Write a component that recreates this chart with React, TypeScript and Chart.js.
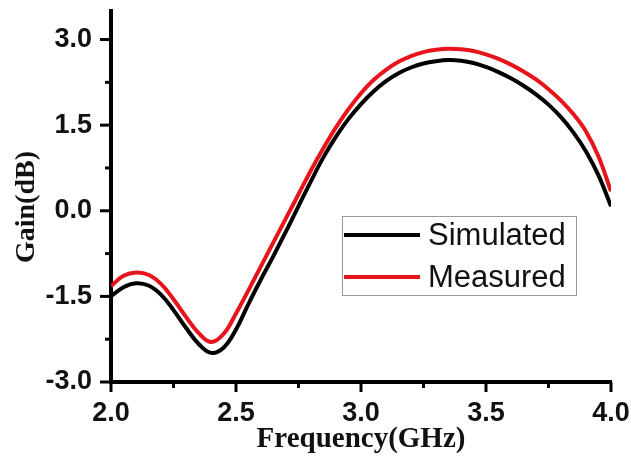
import { useEffect, useRef } from "react";
import { Chart, registerables } from "chart.js";

Chart.register(...registerables);

const frequencies = [
  2.0, 2.05, 2.1, 2.15, 2.2, 2.25, 2.3, 2.35, 2.4, 2.45, 2.5, 2.55, 2.6, 2.65, 2.7, 2.75, 2.8, 2.85, 2.9, 2.95, 3.0,
  3.05, 3.1, 3.15, 3.2, 3.25, 3.3, 3.35, 3.4, 3.45, 3.5, 3.55, 3.6, 3.65, 3.7, 3.75, 3.8, 3.85, 3.9, 3.95, 4.0,
];
const simulated = [
  -1.5, -1.34, -1.27, -1.31, -1.47, -1.74, -2.05, -2.33, -2.49, -2.4, -2.08, -1.63, -1.2, -0.79, -0.36, 0.08, 0.52,
  0.94, 1.3, 1.61, 1.87, 2.09, 2.27, 2.41, 2.51, 2.58, 2.62, 2.64, 2.63, 2.59, 2.52, 2.43, 2.32, 2.19, 2.04, 1.86,
  1.64, 1.37, 1.04, 0.62, 0.08,
];
const measured = [
  -1.32, -1.14, -1.08, -1.12, -1.28, -1.55, -1.86, -2.14, -2.3, -2.16, -1.8, -1.39, -0.97, -0.55, -0.13, 0.29, 0.71,
  1.1, 1.46, 1.78, 2.06, 2.29, 2.47, 2.61, 2.71, 2.78, 2.82, 2.84, 2.83, 2.8, 2.74, 2.66, 2.56, 2.44, 2.3, 2.13,
  1.93, 1.69, 1.39, 0.95, 0.34,
];
const seriesLabels = ["Simulated", "Measured"];
const seriesColors = ["#000000", "#e8141b"];
const xMajorTicks = [2.0, 2.5, 3.0, 3.5, 4.0];
const xMinorTicks = [2.25, 2.75, 3.25, 3.75];
const yMajorTicks = [-3.0, -1.5, 0.0, 1.5, 3.0];
const yMinorTicks = [-2.25, -0.75, 0.75, 2.25];

const tickPlugin = {
  id: "customTicks",
  afterDraw(chart: any) {
    const ctx = chart.ctx;
    const xs = chart.scales.x;
    const ys = chart.scales.y;
    const area = chart.chartArea;
    ctx.save();
    ctx.strokeStyle = "#000";
    ctx.lineWidth = 3;
    ctx.lineCap = "butt";
    const vline = (px: number, len: number) => {
      ctx.beginPath();
      ctx.moveTo(px, area.bottom);
      ctx.lineTo(px, area.bottom + len);
      ctx.stroke();
    };
    const hline = (py: number, len: number) => {
      ctx.beginPath();
      ctx.moveTo(area.left, py);
      ctx.lineTo(area.left - len, py);
      ctx.stroke();
    };
    xMajorTicks.forEach((v) => vline(xs.getPixelForValue(v), 10));
    xMinorTicks.forEach((v) => vline(xs.getPixelForValue(v), 6));
    yMajorTicks.forEach((v) => hline(ys.getPixelForValue(v), 11));
    yMinorTicks.forEach((v) => hline(ys.getPixelForValue(v), 6));

    // legend box
    const bx = area.left + 231;
    const by = area.top + 205;
    const bw = 234;
    const bh = 79;
    ctx.lineWidth = 1;
    ctx.strokeStyle = "#9a9a9a";
    ctx.strokeRect(bx + 0.5, by + 0.5, bw, bh);
    ctx.font = '31px "Liberation Sans", Arial, sans-serif';
    ctx.textBaseline = "middle";
    ctx.textAlign = "left";
    seriesLabels.forEach((label, i) => {
      const ly = by + 19 + i * 42;
      ctx.strokeStyle = seriesColors[i];
      ctx.lineWidth = 4;
      ctx.beginPath();
      ctx.moveTo(bx + 2, ly);
      ctx.lineTo(bx + 78, ly);
      ctx.stroke();
      ctx.fillStyle = "#111";
      ctx.fillText(label, bx + 86, ly + 1);
    });
    ctx.restore();
  },
};

const zeroPad = (s: any) => {
  s.paddingLeft = 0;
  s.paddingRight = 0;
  s.paddingTop = 0;
  s.paddingBottom = 0;
};

export default function App() {
  const canvasRef = useRef<HTMLCanvasElement | null>(null);

  useEffect(() => {
    if (!canvasRef.current) return;
    const tickFont = { family: '"Liberation Sans", Arial, sans-serif', size: 27, weight: "bold" as const };
    const chart = new Chart(canvasRef.current, {
      type: "line",
      data: {
        datasets: [
          {
            label: seriesLabels[0],
            data: frequencies.map((f, i) => ({ x: f, y: simulated[i] })),
            borderColor: seriesColors[0],
            borderWidth: 4,
            pointRadius: 0,
            tension: 0.4,
            order: 1,
          },
          {
            label: seriesLabels[1],
            data: frequencies.map((f, i) => ({ x: f, y: measured[i] })),
            borderColor: seriesColors[1],
            borderWidth: 4,
            pointRadius: 0,
            tension: 0.4,
            order: 0,
          },
        ],
      },
      options: {
        responsive: false,
        animation: false,
        layout: { padding: { top: 11, right: 20, left: 0, bottom: 0 } },
        plugins: { legend: { display: false }, tooltip: { enabled: false } },
        scales: {
          x: {
            type: "linear",
            min: 2.0,
            max: 4.0,
            grid: { display: false, drawTicks: false },
            border: { display: true, color: "#000", width: 4 },
            afterFit: (s: any) => {
              s.height = 75;
              zeroPad(s);
            },
            ticks: {
              stepSize: 0.5,
              includeBounds: false,
              padding: 15,
              color: "#111",
              font: tickFont,
              maxRotation: 0,
              callback: (v: any) => Number(v).toFixed(1),
            },
            title: {
              display: true,
              text: "Frequency(GHz)",
              color: "#111",
              font: { family: '"Liberation Serif", "Times New Roman", serif', size: 29, weight: "bold" },
              padding: { top: 0, bottom: 0 },
            },
          },
          y: {
            type: "linear",
            min: -3.0,
            max: 3.5,
            grid: { display: false, drawTicks: false },
            border: { display: true, color: "#000", width: 4 },
            afterFit: (s: any) => {
              s.width = 111;
              zeroPad(s);
            },
            ticks: {
              stepSize: 1.5,
              includeBounds: false,
              padding: 19,
              color: "#111",
              font: tickFont,
              callback: (v: any) => Number(v).toFixed(1),
            },
            title: {
              display: true,
              text: "Gain(dB)   ",
              color: "#111",
              font: { family: '"Liberation Serif", "Times New Roman", serif', size: 28, weight: "bold" },
              padding: { top: 10, bottom: 0 },
            },
          },
        },
      },
      plugins: [tickPlugin],
    });
    return () => chart.destroy();
  }, []);

  return (
    <div style={{ position: "absolute", left: 0, top: 0, width: 631, height: 457, background: "#fff" }}>
      <canvas ref={canvasRef} width={631} height={457} style={{ display: "block" }} />
    </div>
  );
}
